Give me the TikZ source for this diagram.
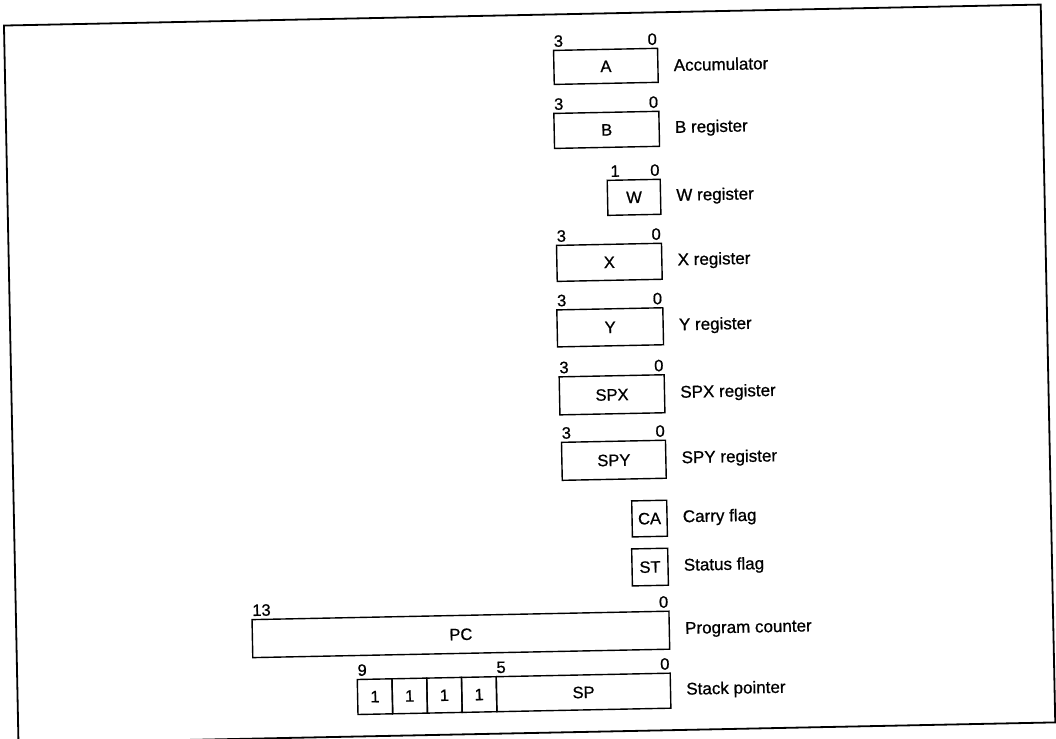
\documentclass[tikz,border=0pt]{standalone}
\usepackage{fontspec}
\setmainfont[FakeBold=0.8]{Liberation Sans}
\begin{document}
\begin{tikzpicture}[x=1pt,y=-1pt,
  reg/.style={draw, line width=1.4pt, inner sep=0pt, font=\fontsize{16.5}{16.5}\selectfont},
  lbl/.style={anchor=west, inner sep=0pt, xshift=15pt, font=\fontsize{17}{17}\selectfont},
  bitl/.style={anchor=south west, inner sep=0pt, yshift=2.5pt, xshift=1pt, font=\fontsize{16.5}{16.5}\selectfont},
  bitr/.style={anchor=south east, inner sep=0pt, yshift=2.5pt, xshift=-1pt, font=\fontsize{16.5}{16.5}\selectfont},
  frame/.style={draw, line width=1.8pt}
]
\useasboundingbox (0,0) rectangle (1056,738);
\clip (0,0) rectangle (1056,738);
\begin{scope}[rotate around={1.16:(528,369)}, transform shape]
\draw[frame] (11,15) rectangle (1048,733);

% Accumulator
\node[reg, minimum width=104pt, minimum height=34pt] (A) at (612,68) {A};
\node[lbl] (Al) at (A.east) {Accumulator};
\node[bitl] (A3) at (A.north west) {3};
\node[bitr] (A0) at (A.north east) {0};

% B
\node[reg, minimum width=105pt, minimum height=35pt] (B) at (611.5,131.5) {B};
\node[lbl] (Bl) at (B.east) {B register};
\node[bitl] (B3) at (B.north west) {3};
\node[bitr] (B0) at (B.north east) {0};

% W
\node[reg, minimum width=53pt, minimum height=35pt] (W) at (637.5,199.5) {W};
\node[lbl] (Wl) at (W.east) {W register};
\node[bitl] (W1) at (W.north west) {\hspace{3pt}1};
\node[bitr] (W0) at (W.north east) {0};

% X
\node[reg, minimum width=105pt, minimum height=36pt] (X) at (611.5,264) {X};
\node[lbl] (Xl) at (X.east) {X register};
\node[bitl] (X3) at (X.north west) {3};
\node[bitr] (X0) at (X.north east) {0};

% Y
\node[reg, minimum width=106pt, minimum height=37pt] (Y) at (611,329) {Y};
\node[lbl] (Yl) at (Y.east) {Y register};
\node[bitl] (Y3) at (Y.north west) {3};
\node[bitr] (Y0) at (Y.north east) {0};

% SPX
\node[reg, minimum width=105pt, minimum height=38pt] (SPX) at (611.5,396.5) {SPX};
\node[lbl] (SPXl) at (SPX.east) {SPX register};
\node[bitl] (SPX3) at (SPX.north west) {3};
\node[bitr] (SPX0) at (SPX.north east) {0};

% SPY
\node[reg, minimum width=104pt, minimum height=38pt] (SPY) at (612,462) {SPY};
\node[lbl] (SPYl) at (SPY.east) {SPY register};
\node[bitl] (SPY3) at (SPY.north west) {3};
\node[bitr] (SPY0) at (SPY.north east) {0};

% flags
\node[reg, minimum width=35pt, minimum height=36pt] (CA) at (646.5,521) {CA};
\node[lbl] (CAl) at (CA.east) {Carry flag};
\node[reg, minimum width=36pt, minimum height=37pt] (ST) at (646,569.5) {ST};
\node[lbl] (STl) at (ST.east) {Status flag};

% PC
\node[reg, minimum width=417pt, minimum height=38pt] (PC) at (455.5,633) {PC};
\node[lbl] (PCl) at (PC.east) {Program counter};
\node[bitl] (PC13) at (PC.north west) {13};
\node[bitr] (PC0) at (PC.north east) {0};

% SP
\node[reg, minimum width=34.75pt, minimum height=35pt] (S9) at (368.4,693.5) {1};
\node[reg, minimum width=34.75pt, minimum height=35pt] (S8) at (403.1,693.5) {1};
\node[reg, minimum width=34.75pt, minimum height=35pt] (S7) at (437.9,693.5) {1};
\node[reg, minimum width=34.75pt, minimum height=35pt] (S6) at (472.6,693.5) {1};
\node[reg, minimum width=174pt, minimum height=35pt] (SP) at (577,693.5) {SP};
\node[lbl] (SPl) at (SP.east) {Stack pointer};
\node[bitl] (SP9) at (S9.north west) {9};
\node[bitl] (SP5) at (SP.north west) {5};
\node[bitr] (SP0) at (SP.north east) {0};
\end{scope}
\end{tikzpicture}
\end{document}
